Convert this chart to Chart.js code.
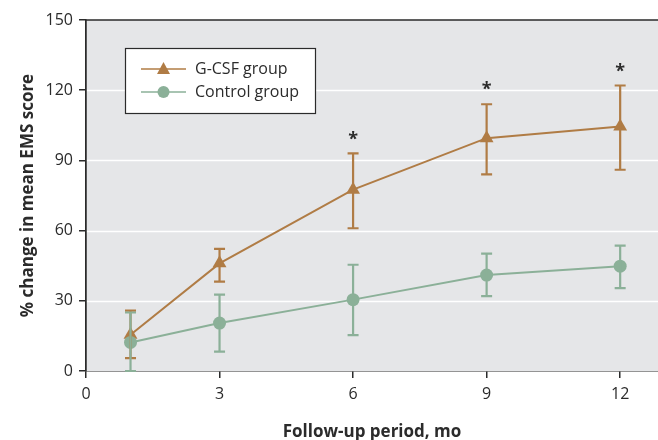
<!DOCTYPE html>
<html>
<head>
<meta charset="utf-8">
<script src="https://cdn.jsdelivr.net/npm/chart.js@4"></script>
<style>
  html, body { margin:0; padding:0; background:#fff; overflow:hidden; }
  #wrap { width:658px; height:440px; position:relative; }
  canvas { display:block; }
</style>
</head>
<body>
<div id="wrap"><canvas id="chart" width="658" height="440"></canvas></div>
<script>
// ---- data ----
const MONTHS = [1, 3, 6, 9, 12];
const X_TICKS = [0, 3, 6, 9, 12];
const GCSF_MEAN = [15.5, 46, 77.5, 99.5, 104.5];
const GCSF_HIGH = [25.8, 52.2, 93, 114, 122];
const GCSF_LOW  = [5.5, 38.2, 61, 84, 86];
const CTRL_MEAN = [12.2, 20.5, 30.5, 41, 44.8];
const CTRL_HIGH = [25, 32.6, 45.4, 50.2, 53.6];
const CTRL_LOW  = [0, 8.3, 15.3, 32, 35.4];
const SIGNIF = [false, false, true, true, true]; // asterisk above G-CSF bar

const ORANGE = '#B07C45';
const GREEN = '#8BB098';
const INK = '#2b2b2b';
const FONT = "'Open Sans', 'DejaVu Sans', sans-serif";

function pts(ys){ return MONTHS.map((m,i) => ({x:m, y:ys[i]})); }

// error bars, asterisks, frame and the boxed legend
const extras = {
  id: 'extras',
  beforeDatasetsDraw(chart){
    const {ctx, chartArea:a} = chart;
    ctx.save();
    ctx.fillStyle = '#E5E6E8';
    ctx.fillRect(a.left, a.top, a.right - a.left, a.bottom - a.top);
    // white grid lines
    const y = chart.scales.y;
    ctx.strokeStyle = '#ffffff'; ctx.lineWidth = 1.5;
    [30, 60, 90, 120].forEach(v => {
      const py = Math.round(y.getPixelForValue(v)) + 0.5;
      ctx.beginPath(); ctx.moveTo(a.left, py); ctx.lineTo(a.right, py); ctx.stroke();
    });
    ctx.restore();
  },
  afterDatasetsDraw(chart){
    const {ctx, chartArea:a, scales:{x, y}} = chart;
    ctx.save();
    const bars = (lo, hi, color) => {
      ctx.strokeStyle = color; ctx.lineWidth = 2.2;
      MONTHS.forEach((m,i) => {
        const px = x.getPixelForValue(m);
        const y1 = y.getPixelForValue(lo[i]), y2 = y.getPixelForValue(hi[i]);
        ctx.beginPath();
        ctx.moveTo(px, y1); ctx.lineTo(px, y2);
        ctx.moveTo(px-5.5, y1); ctx.lineTo(px+5.5, y1);
        ctx.moveTo(px-5.5, y2); ctx.lineTo(px+5.5, y2);
        ctx.stroke();
      });
    };
    bars(GCSF_LOW, GCSF_HIGH, ORANGE);
    bars(CTRL_LOW, CTRL_HIGH, GREEN);

    ctx.fillStyle = INK;
    ctx.font = "bold 18px " + FONT;
    ctx.textAlign = 'center'; ctx.textBaseline = 'middle';
    MONTHS.forEach((m,i) => {
      if(SIGNIF[i]) ctx.fillText('*', x.getPixelForValue(m), y.getPixelForValue(GCSF_HIGH[i]) - 14);
    });

    // frame top + left
    ctx.strokeStyle = INK; ctx.lineWidth = 1.5;
    ctx.beginPath();
    ctx.moveTo(a.left, a.bottom); ctx.lineTo(a.left, a.top); ctx.lineTo(a.right, a.top);
    ctx.stroke();

    // legend box
    const lx = a.left + 39, ly = a.top + 28, lw = 190, lh = 65;
    ctx.fillStyle = '#ffffff';
    ctx.fillRect(lx, ly, lw, lh);
    ctx.strokeStyle = INK; ctx.lineWidth = 1.2;
    ctx.strokeRect(lx + 0.5, ly + 0.5, lw, lh);
    const rows = [
      {label:'G-CSF group', color:ORANGE, tri:true},
      {label:'Control group', color:GREEN, tri:false}
    ];
    rows.forEach((r, k) => {
      const cy = ly + 21 + k * 23;
      ctx.strokeStyle = r.color; ctx.lineWidth = 1.5;
      ctx.beginPath(); ctx.moveTo(lx + 16, cy); ctx.lineTo(lx + 61, cy); ctx.stroke();
      ctx.fillStyle = r.color;
      ctx.beginPath();
      if(r.tri){ ctx.moveTo(lx+38.5, cy-7); ctx.lineTo(lx+45, cy+5); ctx.lineTo(lx+32, cy+5); ctx.closePath(); }
      else ctx.arc(lx + 38.5, cy, 6, 0, Math.PI*2);
      ctx.fill();
      ctx.fillStyle = INK; ctx.font = "16px " + FONT;
      ctx.textAlign = 'left'; ctx.textBaseline = 'middle';
      ctx.fillText(r.label, lx + 70, cy);
    });
    ctx.restore();
  }
};

new Chart(document.getElementById('chart'), {
  type: 'line',
  data: {
    datasets: [
      { label:'G-CSF group', data: pts(GCSF_MEAN), borderColor: ORANGE, backgroundColor: ORANGE,
        borderWidth: 2, pointStyle:'triangle', pointRadius: 8, pointBorderWidth: 0, order: 2 },
      { label:'Control group', data: pts(CTRL_MEAN), borderColor: GREEN, backgroundColor: GREEN,
        borderWidth: 2, pointStyle:'circle', pointRadius: 6.5, pointBorderWidth: 0, order: 1 }
    ]
  },
  options: {
    responsive: false, animation: false,
    layout: { autoPadding: false, padding: { top: 20, right: 0, left: 14, bottom: 0 } },
    plugins: { legend: { display:false }, tooltip: { enabled:false } },
    scales: {
      x: {
        type: 'linear', min: 0, max: 12.85,
        afterBuildTicks: s => { s.ticks = X_TICKS.map(v => ({value:v})); },
        afterFit: s => { s.height = 69; s.paddingRight = 0; s.paddingLeft = 0; },
        grid: { drawOnChartArea:false, tickLength:7, tickColor:INK, lineWidth:1.5 },
        border: { color: INK, width: 1.5 },
        ticks: { color: INK, font: { family: FONT, size: 16 }, padding: 7, maxRotation:0 },
        title: { display:true, text:'Follow-up period, mo', color: INK,
          font: { family: FONT, size: 17, weight:'bold' }, padding: { top: 20, bottom: -2 } }
      },
      y: {
        min: 0, max: 150,
        ticks: { stepSize: 30, color: INK, font: { family: FONT, size: 16 }, padding: 6 },
        afterFit: s => { s.width = 72; },
        grid: { drawOnChartArea:false, tickLength:7, tickColor:INK, lineWidth:1.5 },
        border: { color: INK, width: 1.5 },
        title: { display:true, text:'% change in mean EMS score', color: INK,
          font: { family: FONT, size: 17, weight:'bold' }, padding: { bottom: 6 } }
      }
    }
  },
  plugins: [extras]
});
</script>
</body>
</html>
